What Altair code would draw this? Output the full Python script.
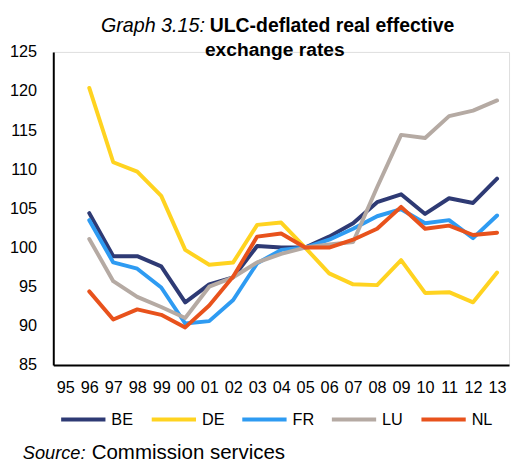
import altair as alt
import pandas as pd

years = ["95", "96", "97", "98", "99", "00", "01", "02", "03", "04",
         "05", "06", "07", "08", "09", "10", "11", "12", "13"]
countries = ["BE", "DE", "FR", "LU", "NL"]
colors = ["#2E3A74", "#FFD320", "#2E9BF2", "#B5AAA3", "#E8521C"]

be = [None, 104.4, 98.9, 98.9, 97.6, 93.0, 95.3, 96.2, 100.2, 100.0,
      100.0, 101.4, 103.1, 105.8, 106.8, 104.3, 106.3, 105.7, 108.8]
de = [None, 120.4, 110.9, 109.7, 106.6, 99.7, 97.8, 98.1, 102.9, 103.2,
      100.0, 96.7, 95.3, 95.2, 98.4, 94.2, 94.3, 93.0, 96.8]
fr = [None, 103.5, 98.1, 97.3, 94.9, 90.3, 90.6, 93.3, 98.0, 99.7,
      100.0, 101.0, 102.4, 104.0, 104.9, 103.1, 103.5, 101.2, 104.1]
lu = [None, 101.1, 95.7, 93.7, 92.4, 91.0, 95.0, 96.2, 98.1, 99.2,
      100.0, 100.4, 100.7, 107.7, 114.4, 114.0, 116.8, 117.5, 118.8]
nl = [None, 94.4, 90.8, 92.1, 91.4, 89.8, 92.6, 96.3, 101.4, 101.8,
      100.0, 100.0, 101.0, 102.4, 105.2, 102.4, 102.8, 101.6, 101.9]

y_ticks = [85, 90, 95, 100, 105, 110, 115, 120, 125]

rows = []
for c, vals in zip(countries, [be, de, fr, lu, nl]):
    for yr, v in zip(years, vals):
        if v is not None:
            rows.append({"year": yr, "country": c, "value": v})
df = pd.DataFrame(rows)

FONT = "Liberation Sans"

lines = alt.Chart(df).mark_line(strokeWidth=4, strokeJoin="round", strokeCap="round").encode(
    x=alt.X("year:O", sort=years,
            scale=alt.Scale(domain=years),
            axis=alt.Axis(title=None, labelAngle=0, ticks=False, labelPadding=15,
                          labelFontSize=16.5, labelFont=FONT, labelColor="black",
                          domainColor="black", domainWidth=2, grid=False)),
    y=alt.Y("value:Q",
            scale=alt.Scale(domain=[85, 125], nice=False, zero=False),
            axis=alt.Axis(title=None, values=y_ticks, ticks=False, labelPadding=17,
                          labelFontSize=16.5, labelFont=FONT, labelColor="black",
                          domainColor="black", domainWidth=2, grid=False)),
    color=alt.Color("country:N", sort=countries,
                    scale=alt.Scale(domain=countries, range=colors),
                    legend=alt.Legend(orient="none", legendX=6, legendY=349,
                                      direction="horizontal", title=None,
                                      symbolType="stroke", symbolSize=2025,
                                      symbolStrokeWidth=4, labelFontSize=16.5,
                                      labelFont=FONT, labelColor="black",
                                      columnPadding=10, labelOffset=4, padding=0)),
)

def txt(s, x, y, size, style="normal", weight="normal", align="left"):
    return alt.Chart(pd.DataFrame({"t": [s]})).mark_text(
        font=FONT, fontSize=size, fontStyle=style, fontWeight=weight,
        align=align, baseline="alphabetic", color="black"
    ).encode(text="t:N", x=alt.value(x), y=alt.value(y))

title1a = txt("Graph 3.15:", 154, -20, 20, style="italic", align="right")
title1b = txt("ULC-deflated real effective", 159, -20, 19.7, weight="bold")
title2 = txt("exchange rates", 225, 4, 19.5, weight="bold", align="center")
src1 = txt("Source:", -31, 414, 18.5, style="italic")
src2 = txt("Commission services", 39, 414, 20.8)

chart = alt.layer(lines, title1a, title1b, title2, src1, src2).properties(
    width=463, height=318,
    autosize=alt.AutoSizeParams(type="none"),
    padding={"left": 46, "top": 41, "right": 3, "bottom": 96},
).configure_view(stroke=None).configure(background="white")

chart.save("out.html", embed_options={"renderer": "svg", "actions": False})
